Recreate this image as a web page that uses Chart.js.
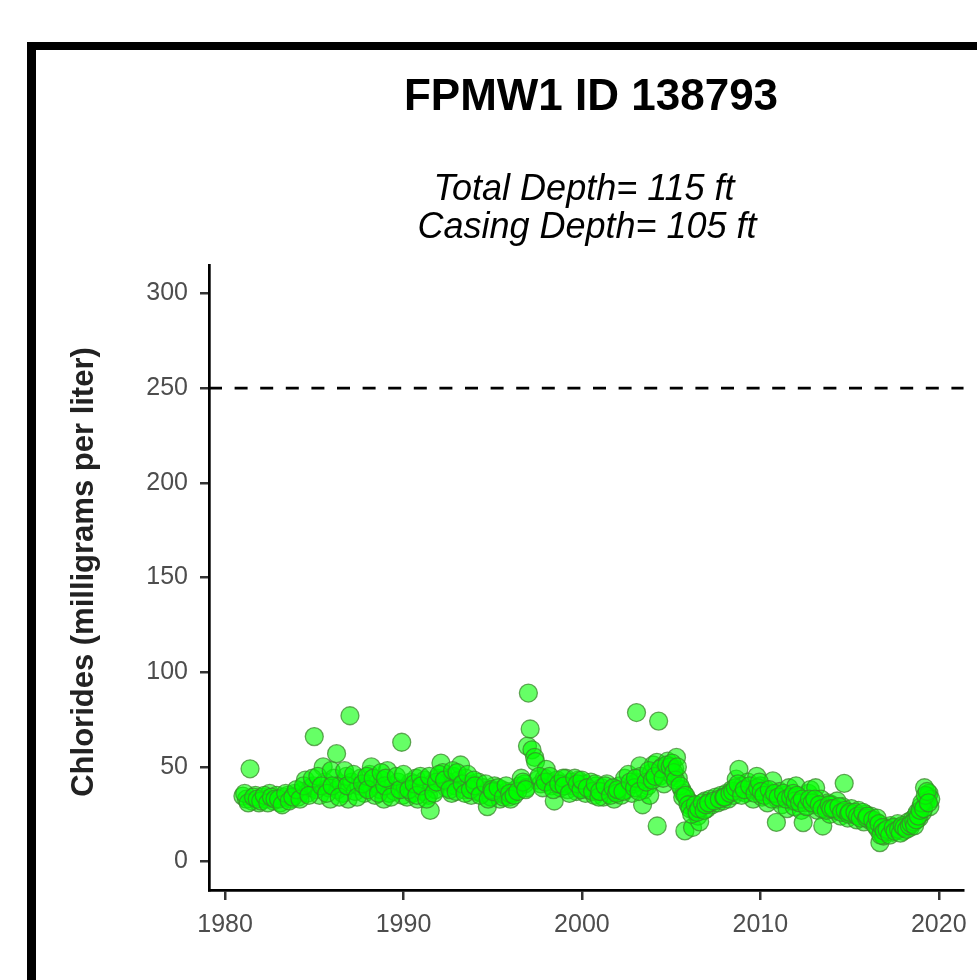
<!DOCTYPE html>
<html>
<head>
<meta charset="utf-8">
<script src="https://cdn.jsdelivr.net/npm/chart.js@4"></script>
<style>
  html, body { margin: 0; padding: 0; background: #fff; overflow: hidden; }
  #frame {
    position: absolute; left: 27px; top: 42px; width: 1000px; height: 1000px;
    border-left: 9px solid #000; border-top: 8px solid #000; background: #fff;
  }
  #chart { position: absolute; left: 0; top: 0; }
</style>
</head>
<body>
<div id="frame"></div>
<canvas id="chart" width="977" height="980"></canvas>
<script>
"use strict";

const titleText = "FPMW1 ID 138793";
const subtitleLines = ["Total Depth= 115 ft", "Casing Depth= 105 ft"];
const yAxisTitle = "Chlorides (milligrams per liter)";

const xTickYears = [1980, 1990, 2000, 2010, 2020];
const yTickValues = [0, 50, 100, 150, 200, 250, 300];
const thresholdMgL = 250;

// sample dates (decimal year) and chloride values
const sampleYear = [
  1981.0, 1981.2, 1981.4, 1981.5, 1981.7, 1981.9,
  1982.1, 1982.3, 1982.5, 1982.7, 1982.9,
  1983.1, 1983.3, 1983.5, 1983.7, 1983.9,
  1984.1, 1984.3, 1984.5, 1984.6, 1984.8, 1984.95,
  1985.0, 1985.1, 1985.3, 1985.5, 1985.6, 1985.8, 1985.9,
  1986.1, 1986.25, 1986.3, 1986.5, 1986.6, 1986.8, 1986.9,
  1987.0, 1987.1, 1987.3, 1987.5, 1987.6, 1987.8, 1987.9,
  1988.1, 1988.2, 1988.4, 1988.5, 1988.7, 1988.8, 1988.9,
  1989.1, 1989.2, 1989.4, 1989.5, 1989.7, 1989.9, 1989.95,
  1990.1, 1990.2, 1990.4, 1990.5, 1990.7, 1990.8, 1990.9,
  1991.1, 1991.2, 1991.4, 1991.5, 1991.6, 1991.8, 1991.9,
  1992.1, 1992.2, 1992.4, 1992.5, 1992.7, 1992.8, 1992.9,
  1993.1, 1993.2, 1993.4, 1993.5, 1993.7, 1993.8, 1993.9,
  1994.1, 1994.2, 1994.4, 1994.5, 1994.7, 1994.8, 1994.9,
  1995.1, 1995.2, 1995.4, 1995.5, 1995.7, 1995.8, 1995.9,
  1996.1, 1996.3, 1996.5, 1996.6, 1996.8, 1996.9,
  1996.95, 1997.0, 1997.1, 1997.2, 1997.35, 1997.4, 1997.5, 1997.7, 1997.9,
  1998.0, 1998.1, 1998.3, 1998.45, 1998.6, 1998.8, 1998.9,
  1999.1, 1999.2, 1999.4, 1999.5, 1999.7, 1999.8, 1999.9,
  2000.1, 2000.2, 2000.4, 2000.5, 2000.7, 2000.8, 2000.9,
  2001.1, 2001.2, 2001.4, 2001.5, 2001.7, 2001.8, 2001.9,
  2002.1, 2002.2, 2002.4, 2002.5, 2002.6, 2002.8, 2002.9,
  2003.06, 2003.1, 2003.25, 2003.3, 2003.4, 2003.5, 2003.7, 2003.8, 2003.9,
  2004.0, 2004.2, 2004.22, 2004.3, 2004.35, 2004.5, 2004.6, 2004.7, 2004.8, 2004.9,
  2005.0, 2005.1, 2005.2, 2005.3, 2005.4, 2005.6, 2005.7, 2005.77, 2005.9,
  2006.0, 2006.1, 2006.2, 2006.3, 2006.5, 2006.6, 2006.7, 2006.9,
  2007.0, 2007.2, 2007.3, 2007.5, 2007.6, 2007.8, 2007.9,
  2008.1, 2008.2, 2008.4, 2008.5, 2008.65, 2008.8, 2008.9,
  2009.0, 2009.2, 2009.3, 2009.5, 2009.6, 2009.8, 2009.9,
  2010.0, 2010.1, 2010.3, 2010.4, 2010.6, 2010.7, 2010.9, 2010.95,
  2011.1, 2011.2, 2011.4, 2011.5, 2011.6, 2011.8, 2011.9,
  2012.0, 2012.1, 2012.3, 2012.4, 2012.5, 2012.7, 2012.8,
  2013.0, 2013.1, 2013.2, 2013.4, 2013.5, 2013.6, 2013.8, 2013.9,
  2014.0, 2014.2, 2014.3, 2014.5, 2014.6, 2014.7, 2014.8, 2014.9,
  2015.1, 2015.2, 2015.4, 2015.5, 2015.7, 2015.8, 2015.9,
  2016.1, 2016.2, 2016.4, 2016.5, 2016.6, 2016.7, 2016.8, 2016.9,
  2017.0, 2017.2, 2017.3, 2017.4, 2017.6, 2017.7, 2017.9,
  2018.0, 2018.1, 2018.3, 2018.4, 2018.5, 2018.7, 2018.8, 2018.9,
  2019.0, 2019.1, 2019.2, 2019.3, 2019.4, 2019.45, 2019.5, 2019.55,
  // in-between samples
  1981.1, 1981.3, 1981.6, 1981.8, 1982.0, 1982.2, 1982.4, 1982.6, 1982.8,
  1983.0, 1983.2, 1983.4, 1983.6, 1983.8, 1984.0, 1984.2, 1984.4, 1984.7, 1984.9,
  1985.2, 1985.4, 1985.7, 1985.95, 1986.0, 1986.4, 1986.7, 1986.85,
  1987.2, 1987.4, 1987.7, 1987.95, 1988.0, 1988.3, 1988.6, 1988.75, 1988.95,
  1989.0, 1989.3, 1989.6, 1989.8, 1990.0, 1990.3, 1990.6, 1990.75, 1990.95,
  1991.0, 1991.3, 1991.45, 1991.7, 1991.85, 1992.0, 1992.3, 1992.6, 1992.75, 1992.95,
  1993.0, 1993.3, 1993.45, 1993.6, 1993.75, 1993.95, 1994.0, 1994.3, 1994.6, 1994.75, 1994.95,
  1995.0, 1995.3, 1995.6, 1995.75, 1995.95, 1996.0, 1996.2, 1996.4, 1996.7, 1996.85,
  1997.6, 1997.8, 1997.95, 1998.2, 1998.4, 1998.7, 1998.95, 1999.0, 1999.3, 1999.6, 1999.75, 1999.95,
  2000.0, 2000.3, 2000.6, 2000.75, 2000.95, 2001.0, 2001.3, 2001.6, 2001.75, 2001.95,
  2002.0, 2002.3, 2002.7, 2002.95,
  2003.0, 2003.2, 2003.6, 2003.75, 2003.95, 2004.1, 2004.4, 2004.55, 2004.75, 2004.95,
  2005.05, 2005.15, 2005.25, 2005.35, 2005.5, 2005.65, 2005.8, 2005.95,
  2006.05, 2006.15, 2006.35, 2006.45, 2006.55, 2006.75, 2006.85, 2006.95,
  2007.1, 2007.4, 2007.7, 2007.95, 2008.0, 2008.3, 2008.45, 2008.6, 2008.75, 2008.95,
  2009.1, 2009.4, 2009.7, 2009.85, 2009.95, 2010.05, 2010.2, 2010.5, 2010.65, 2010.8,
  2011.0, 2011.3, 2011.45, 2011.7, 2011.85, 2011.95, 2012.05, 2012.2, 2012.35, 2012.6, 2012.75, 2012.9,
  2013.05, 2013.3, 2013.45, 2013.7, 2013.85, 2013.95, 2014.1, 2014.4, 2014.55, 2014.75, 2014.95,
  2015.0, 2015.3, 2015.45, 2015.6, 2015.75, 2015.95, 2016.0, 2016.3, 2016.45, 2016.55, 2016.65,
  2016.75, 2016.85, 2016.95,
  2017.1, 2017.25, 2017.45, 2017.55, 2017.75, 2017.85, 2017.95, 2018.05, 2018.2, 2018.35,
  2018.45, 2018.6, 2018.65, 2018.75, 2018.85, 2018.95, 2019.05, 2019.15, 2019.25, 2019.35, 2019.42
];
const chlorideMgL = [
  34.6, 33, 49, 32, 35, 31,
  34, 33, 36, 32, 35,
  31, 34, 35, 33, 36,
  34, 37, 43, 36, 39, 40,
  66, 38, 35, 50, 42, 39, 33,
  44, 57, 38, 41, 36, 45, 33,
  77, 42, 37, 40, 44, 36, 39,
  46, 50, 35, 41, 38, 43, 33,
  48, 36, 40, 37, 42, 63, 35,
  39, 34, 42, 36, 44, 33, 40,
  37, 43, 35, 27, 41, 38, 44,
  52, 47, 39, 42, 36, 45, 40,
  43, 51, 38, 44, 40, 35, 41,
  37, 42, 36, 39, 29, 38, 34,
  40, 36, 33, 38, 35, 37, 34,
  36, 38, 40, 44, 41, 39,
  61, 89, 70, 59, 55, 52.8, 43, 41, 44,
  48.7, 42, 40, 32, 43, 39, 41,
  44, 38, 42, 40, 37, 43, 39,
  41, 36, 38, 42, 35, 40, 37,
  39, 34, 41, 36, 38, 33, 37,
  40, 35, 44, 38, 46, 36, 41,
  78.7, 42, 50.5, 45, 30, 38, 40, 35, 47,
  51, 52.4, 18.8, 74.2, 45, 50, 41, 48, 53, 47,
  50, 45, 49, 55, 44, 38, 36, 16.2, 33,
  30, 31, 18, 27, 24, 21, 29, 32,
  28, 33, 30, 34, 31, 35, 32,
  36, 33, 38, 35, 43.5, 48.7, 37,
  40, 36, 42, 38, 33, 45, 37,
  40, 34, 38, 31, 36, 42.6, 20.7, 33,
  37, 30, 35, 28, 39, 32, 29,
  40, 34, 27, 20.6, 31, 36, 38,
  30, 39, 27, 33, 18.8, 29, 31, 25,
  30, 27, 32, 24, 29, 41.3, 26, 23,
  28, 25, 22, 27, 24, 21, 25,
  22, 24, 20, 21, 17, 10, 15, 13.5,
  18, 16, 19, 15.5, 17, 20, 18,
  16, 19, 21, 18, 22, 24, 26, 23,
  29, 26, 39, 32, 34.6, 36, 29, 33,
  // in-between samples
  36, 31, 34, 33, 32, 35, 31, 34, 33,
  33, 30, 36, 32, 34, 38, 33, 40, 35, 44,
  45, 40, 36, 48, 40, 34, 48, 40,
  46, 34, 41, 45, 38, 44, 36, 47, 40,
  44, 34, 45, 38, 46, 38, 41, 35, 45,
  40, 33, 45, 36, 42, 46, 43, 38, 48, 37,
  47, 41, 36, 46, 38, 43, 40, 35, 41, 33, 38,
  37, 39, 34, 40, 36, 33, 35, 37, 42, 38,
  45, 39, 42, 45, 38, 41, 44, 40, 36, 44, 41, 38,
  43, 39, 37, 41, 34, 37, 40, 35, 39, 36,
  38, 37, 42, 39,
  44, 37, 42, 48, 43, 45, 49, 44, 51, 50,
  52, 47, 43, 50, 40, 34, 35, 30,
  28, 25, 30, 26, 28, 31, 27, 30,
  31, 32, 33, 34, 34, 36, 37, 39, 41, 35,
  38, 40, 36, 39, 42, 37, 35, 38, 33, 36,
  34, 36, 33, 34, 36, 32, 35, 31, 33, 29, 33, 31,
  33, 30, 28, 27, 30, 28, 28, 29, 26, 27, 25,
  26, 26, 24, 23, 26, 23, 24, 22, 19, 23, 20,
  14, 18, 16,
  17, 14, 18, 16, 17, 15, 19, 18, 17, 19,
  20, 21, 19, 22, 24, 27, 31, 28, 35, 37, 31
];

const X_MIN = 1979.1, X_MAX = 2021.4;
const Y_MIN = -15, Y_MAX = 315;
const FONT = "'Liberation Sans', Arial, sans-serif";

const points = sampleYear.map((yr, i) => ({ x: yr, y: chlorideMgL[i] }));
const threshold = [{ x: X_MIN, y: thresholdMgL }, { x: X_MAX, y: thresholdMgL }];

const textLayer = {
  id: "textLayer",
  afterDraw(chart) {
    const ctx = chart.ctx;
    ctx.save();
    ctx.fillStyle = "#000";
    ctx.textAlign = "center";
    ctx.textBaseline = "alphabetic";
    ctx.font = `bold 44px ${FONT}`;
    ctx.fillText(titleText, 591, 110);
    ctx.font = `italic 36px ${FONT}`;
    ctx.fillText(subtitleLines[0], 584, 200);
    ctx.fillText(subtitleLines[1], 587, 238);
    ctx.translate(84, 572);
    ctx.rotate(-Math.PI / 2);
    ctx.textBaseline = "middle";
    ctx.font = `bold 31px ${FONT}`;
    ctx.fillStyle = "#222";
    ctx.fillText(yAxisTitle, 0, 0);
    ctx.restore();
  },
};

new Chart(document.getElementById("chart"), {
  type: "scatter",
  data: {
    datasets: [
      {
        type: "line", data: threshold, borderColor: "#000", borderWidth: 2.8,
        borderDash: [13, 12.6], pointRadius: 0, fill: false, order: 2,
      },
      {
        data: points, backgroundColor: "rgba(0,255,0,0.6)",
        borderColor: "rgba(60,135,45,0.75)", borderWidth: 1.3,
        pointRadius: 9, order: 1,
      },
    ],
  },
  options: {
    responsive: false, animation: false, devicePixelRatio: 1,
    layout: { padding: { left: 0, top: 265, right: 13, bottom: 30 } },
    plugins: { legend: { display: false }, tooltip: { enabled: false } },
    scales: {
      x: {
        type: "linear", min: X_MIN, max: X_MAX,
        afterBuildTicks: (s) => { s.ticks = xTickYears.map((v) => ({ value: v })); },
        afterFit: (s) => { s.height = 60; },
        grid: { drawOnChartArea: false, drawTicks: true, tickLength: 10, color: "#333", lineWidth: 2.5 },
        border: { display: true, color: "#000", width: 2.7 },
        ticks: { color: "#4d4d4d", font: { family: FONT, size: 25 }, padding: 10, maxRotation: 0,
                 callback: (v) => String(v) },
      },
      y: {
        type: "linear", min: Y_MIN, max: Y_MAX,
        afterBuildTicks: (s) => { s.ticks = yTickValues.map((v) => ({ value: v })); },
        afterFit: (s) => { s.width = 209; },
        grid: { drawOnChartArea: false, drawTicks: true, tickLength: 9, color: "#333", lineWidth: 2.5 },
        border: { display: true, color: "#000", width: 2.7 },
        ticks: { color: "#4d4d4d", font: { family: FONT, size: 25 }, padding: 12,
                 callback: (v) => String(v) },
      },
    },
  },
  plugins: [textLayer],
});
</script>
</body>
</html>
